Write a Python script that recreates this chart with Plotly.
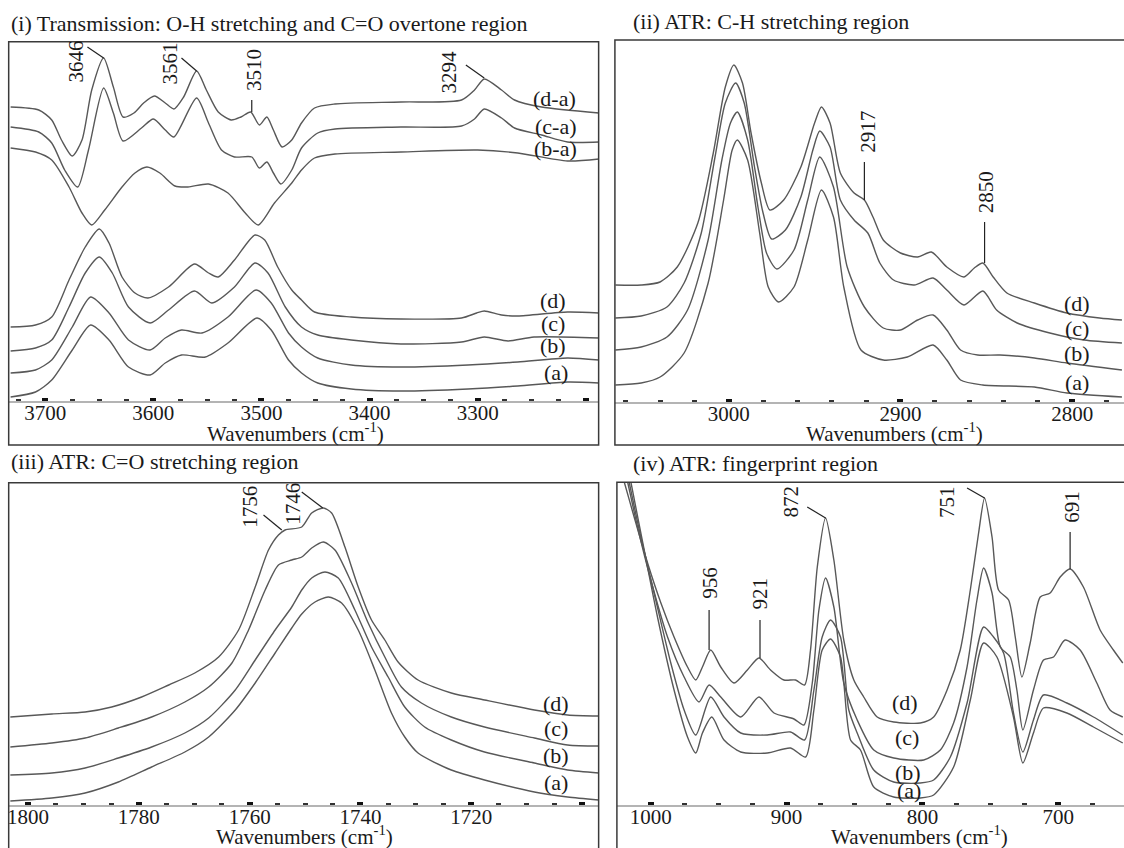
import plotly.graph_objects as go

FONT = "Liberation Serif, 'Times New Roman', serif"
LINE_C = "#585858"
TXT_C = "#1a1a1a"

# ---------------- Panel (i): Transmission, O-H stretching ----------------
p1_da_x = [3732,3706,3694,3685,3675,3666,3657,3646,3637,3628,3618,3609,3599,3589,3581,3572,3560,3551,3540,3528,3519,3510,3502,3495,3489,3481,3472,3463,3451,3432,3371,3315,3303,3294,3278,3266,3241,3188]
p1_da_y = [2.94,2.91,2.81,2.61,2.45,2.61,3.11,3.43,3.14,2.84,2.88,2.98,3.05,2.98,2.92,3.04,3.30,3.11,2.89,2.81,2.84,2.89,2.76,2.84,2.71,2.54,2.61,2.78,2.93,2.97,2.99,3.01,3.11,3.22,3.11,3.01,2.94,2.88]
p1_ca_x = [3732,3706,3694,3682,3670,3660,3646,3637,3628,3611,3600,3589,3581,3560,3549,3537,3525,3509,3502,3495,3489,3482,3472,3463,3448,3432,3371,3315,3303,3294,3278,3266,3241,3217,3188]
p1_ca_y = [2.74,2.69,2.58,2.31,2.14,2.51,3.13,2.88,2.60,2.73,2.82,2.71,2.64,3.03,2.78,2.51,2.44,2.44,2.33,2.39,2.28,2.17,2.31,2.53,2.68,2.72,2.74,2.75,2.82,2.92,2.83,2.73,2.66,2.59,2.59]
p1_ba_x = [3732,3709,3694,3678,3666,3657,3645,3629,3617,3606,3594,3580,3568,3549,3531,3515,3503,3488,3472,3463,3451,3432,3371,3300,3263,3217,3188]
p1_ba_y = [2.53,2.49,2.41,2.14,1.88,1.76,1.91,2.14,2.28,2.34,2.28,2.15,2.14,2.17,2.08,1.88,1.76,1.98,2.18,2.31,2.43,2.47,2.49,2.51,2.48,2.40,2.42]
p1_d_x = [3732,3709,3694,3678,3663,3650,3641,3629,3617,3605,3586,3562,3549,3540,3525,3506,3497,3485,3472,3463,3451,3417,3371,3315,3301,3294,3278,3263,3217,3188]
p1_d_y = [0.74,0.76,0.84,1.21,1.54,1.72,1.58,1.24,1.08,1.03,1.14,1.37,1.28,1.24,1.41,1.66,1.61,1.34,1.11,1.01,0.89,0.84,0.82,0.83,0.88,0.90,0.86,0.85,0.89,0.88]
p1_c_x = [3732,3709,3694,3678,3663,3650,3638,3623,3603,3586,3562,3546,3525,3506,3494,3478,3463,3448,3417,3371,3315,3294,3272,3248,3188]
p1_c_y = [0.50,0.53,0.61,0.94,1.28,1.44,1.28,0.94,0.78,0.91,1.10,0.98,1.14,1.38,1.28,0.94,0.74,0.66,0.61,0.57,0.59,0.64,0.60,0.64,0.63]
p1_b_x = [3732,3709,3694,3675,3658,3641,3623,3603,3589,3574,3555,3531,3505,3491,3475,3463,3448,3417,3371,3309,3263,3217,3188]
p1_b_y = [0.28,0.31,0.41,0.74,1.04,0.88,0.61,0.51,0.63,0.71,0.68,0.84,1.11,0.98,0.68,0.54,0.43,0.36,0.34,0.36,0.39,0.43,0.41]
p1_a_x = [3732,3709,3694,3675,3658,3641,3623,3603,3589,3574,3552,3531,3504,3491,3475,3463,3448,3417,3371,3309,3263,3217,3188]
p1_a_y = [0.04,0.09,0.21,0.51,0.76,0.61,0.34,0.26,0.38,0.46,0.44,0.58,0.83,0.71,0.41,0.28,0.18,0.12,0.10,0.12,0.15,0.19,0.18]
p1_labels = ["(d-a)", "(c-a)", "(b-a)", "(d)", "(c)", "(b)", "(a)"]
p1_label_x = [3229, 3228, 3228, 3230, 3230, 3230, 3228]
p1_label_y = [3.03, 2.75, 2.53, 1.01, 0.78, 0.56, 0.29]
p1_peaks = ["3646", "3561", "3510", "3294"]
p1_peak_tx = [3672, 3585, 3507, 3327]
p1_peak_ty = [3.39, 3.37, 3.31, 3.29]
p1_lead_x0 = [3661, 3574, 3509, 3311]
p1_lead_y0 = [3.54, 3.43, 3.01, 3.36]
p1_lead_x1 = [3646, 3560, 3509, 3294]
p1_lead_y1 = [3.43, 3.30, 2.89, 3.23]
p1_ticks = [3700, 3600, 3500, 3400, 3300, 3200]
p1_ticktext = ["3700", "3600", "3500", "3400", "3300", " "]

# ---------------- Panel (ii): ATR, C-H stretching ----------------
p2_d_x = [3066,3051,3040,3030,3018,3009,3002,2997,2992,2987,2981,2976,2968,2958,2950,2946,2941,2935,2927,2921,2916,2910,2900,2890,2882,2873,2863,2857,2852,2846,2838,2822,2803,2784,2771]
p2_d_y = [1.17,1.17,1.20,1.35,1.79,2.49,3.15,3.37,3.19,2.69,2.19,1.92,2.02,2.35,2.79,2.95,2.79,2.29,2.09,2.02,1.85,1.62,1.49,1.45,1.50,1.35,1.25,1.34,1.39,1.25,1.09,0.99,0.89,0.84,0.82]
p2_c_x = [3066,3051,3036,3026,3016,3008,3002,2996,2991,2985,2980,2975,2967,2958,2951,2947,2941,2935,2927,2919,2912,2904,2892,2881,2873,2863,2852,2844,2832,2813,2793,2771]
p2_c_y = [0.84,0.86,0.95,1.19,1.69,2.45,2.99,3.19,2.99,2.35,1.89,1.63,1.72,2.05,2.52,2.71,2.55,2.02,1.82,1.69,1.39,1.22,1.17,1.24,1.12,0.97,1.11,0.92,0.79,0.69,0.62,0.59]
p2_b_x = [3066,3051,3036,3024,3012,3004,2999,2995,2989,2983,2978,2972,2962,2954,2947,2939,2931,2921,2910,2900,2890,2881,2873,2865,2855,2842,2822,2803,2771]
p2_b_y = [0.52,0.55,0.65,0.92,1.62,2.42,2.79,2.90,2.62,1.95,1.49,1.33,1.52,2.02,2.45,2.15,1.35,0.95,0.74,0.72,0.82,0.87,0.72,0.52,0.47,0.47,0.44,0.39,0.32]
p2_a_x = [3066,3051,3040,3026,3012,3003,2998,2995,2989,2982,2977,2971,2962,2954,2946,2939,2933,2923,2910,2896,2881,2873,2865,2852,2822,2803,2771]
p2_a_y = [0.17,0.19,0.25,0.49,1.19,2.02,2.52,2.62,2.42,1.69,1.15,1.00,1.15,1.62,2.12,1.85,1.15,0.52,0.42,0.45,0.57,0.42,0.22,0.17,0.15,0.09,0.05]
p2_labels = ["(d)", "(c)", "(b)", "(a)"]
p2_label_x = [2797, 2797, 2797, 2797]
p2_label_y = [0.99, 0.74, 0.49, 0.20]
p2_peaks = ["2917", "2850"]
p2_peak_tx = [2919, 2850]
p2_peak_ty = [2.70, 2.10]
p2_lead_x0 = [2921, 2851]
p2_lead_y0 = [2.40, 1.80]
p2_lead_x1 = [2921, 2851]
p2_lead_y1 = [2.02, 1.39]
p2_ticks = [3000, 2900, 2800]
p2_ticktext = ["3000", "2900", "2800"]

# ---------------- Panel (iii): ATR, C=O stretching ----------------
p3_d_x = [1803.2,1795.7,1789.7,1784.9,1779.5,1774.6,1769.9,1765.6,1762.0,1759.0,1756.6,1754.8,1753.6,1750.6,1748.8,1746.7,1745.2,1742.8,1740.4,1738.0,1735.6,1733.2,1729.6,1723.6,1717.6,1708.6,1702.6,1697.0]
p3_d_y = [0.88,0.91,0.93,0.98,1.08,1.20,1.32,1.48,1.75,2.18,2.55,2.70,2.75,2.78,2.92,2.97,2.92,2.58,2.18,1.85,1.65,1.43,1.25,1.12,1.05,0.95,0.90,0.89]
p3_c_x = [1803.2,1795.7,1789.7,1783.7,1777.7,1771.7,1767.4,1763.2,1760.2,1757.2,1754.8,1752.4,1750.6,1748.8,1746.7,1744.6,1741.6,1738.6,1735.6,1732.6,1729.0,1723.6,1717.6,1708.6,1702.6,1697.0]
p3_c_y = [0.58,0.62,0.67,0.77,0.88,1.03,1.18,1.42,1.75,2.15,2.40,2.45,2.48,2.57,2.63,2.55,2.22,1.82,1.48,1.18,1.02,0.88,0.78,0.67,0.60,0.59]
p3_b_x = [1803.2,1795.7,1789.7,1783.7,1777.7,1771.7,1767.4,1762.6,1759.0,1755.4,1752.4,1750.6,1748.8,1746.4,1744.0,1741.0,1738.0,1735.0,1732.0,1728.4,1723.6,1717.6,1708.6,1702.6,1697.0]
p3_b_y = [0.30,0.32,0.37,0.47,0.58,0.72,0.87,1.15,1.45,1.75,1.98,2.15,2.27,2.33,2.27,1.95,1.58,1.28,0.98,0.78,0.65,0.53,0.42,0.35,0.32]
p3_a_x = [1803.2,1795.7,1789.7,1783.7,1777.7,1771.7,1767.4,1762.6,1759.0,1755.4,1752.4,1750.6,1748.2,1745.8,1743.4,1740.4,1737.4,1734.4,1732.0,1729.6,1723.6,1717.6,1708.6,1702.6,1697.0]
p3_a_y = [0.04,0.07,0.12,0.23,0.38,0.53,0.68,0.95,1.22,1.52,1.77,1.91,2.03,2.08,2.02,1.75,1.35,0.92,0.68,0.52,0.35,0.25,0.13,0.08,0.05]
p3_labels = ["(d)", "(c)", "(b)", "(a)"]
p3_label_x = [1704.7, 1704.7, 1704.7, 1704.7]
p3_label_y = [1.02, 0.77, 0.50, 0.23]
p3_peaks = ["1756", "1746"]
p3_peak_tx = [1760.0, 1752.2]
p3_peak_ty = [2.98, 3.01]
p3_lead_x0 = [1757.5, 1750.6]
p3_lead_y0 = [2.90, 3.13]
p3_lead_x1 = [1754.2, 1746.8]
p3_lead_y1 = [2.75, 2.97]
p3_ticks = [1800, 1780, 1760, 1740, 1720, 1700]
p3_ticktext = ["1800", "1780", "1760", "1740", "1720", " "]

# ---------------- Panel (iv): ATR, fingerprint ----------------
p4_d_x = [1022.1,1019.6,1012.3,1002.4,992.6,982.9,973.0,966.9,962.0,955.9,948.5,938.7,928.9,920.4,911.8,902.0,893.4,886.8,882.4,877.4,871.3,865.2,857.9,850.5,843.2,833.3,821.1,801.5,791.7,781.8,772.1,764.7,758.6,754.2,748.7,743.9,736.5,731.6,726.7,720.6,713.2,705.9,698.5,691.2,681.4,669.1,659.3,652.4]
p4_d_y = [3.35,3.23,2.88,2.42,2.02,1.68,1.38,1.25,1.38,1.55,1.38,1.22,1.35,1.47,1.35,1.25,1.25,1.20,1.55,2.38,2.87,2.45,1.65,1.25,1.08,0.88,0.83,0.82,0.88,1.15,1.55,2.15,2.72,3.07,2.68,2.15,2.05,1.68,1.28,1.62,2.08,2.12,2.28,2.36,2.18,1.75,1.55,1.42]
p4_c_x = [1019.9,1017.1,1009.8,1000.0,987.7,975.5,964.5,957.1,948.5,933.8,920.4,909.3,894.6,887.3,881.1,876.2,871.3,865.2,857.9,848.0,835.8,821.1,799.0,786.8,777.0,767.1,759.8,754.9,748.7,742.6,735.3,730.4,726.0,718.2,710.8,703.4,694.9,683.8,671.5,661.8,652.4]
p4_c_y = [3.40,3.23,2.78,2.25,1.68,1.28,1.03,1.20,1.08,0.88,1.08,0.92,0.86,0.80,1.22,1.95,2.27,1.98,1.22,0.85,0.55,0.47,0.45,0.55,0.82,1.38,2.05,2.37,2.12,1.58,1.48,1.15,0.75,1.15,1.45,1.48,1.65,1.55,1.22,0.95,0.88]
p4_b_x = [1018.4,1016.0,1007.4,997.6,985.3,975.5,966.9,955.9,946.1,933.8,914.2,897.1,886.8,879.9,873.8,867.6,860.3,854.2,848.0,835.8,821.1,801.5,791.7,779.4,767.1,754.9,747.6,740.2,732.9,726.0,718.2,710.8,693.6,674.0,652.4]
p4_b_y = [3.40,3.23,2.68,2.12,1.42,0.95,0.70,1.08,0.88,0.72,0.70,0.73,0.65,1.15,1.68,1.85,1.68,0.95,0.72,0.35,0.23,0.22,0.25,0.48,1.02,1.78,1.68,1.52,0.92,0.53,0.85,1.10,1.02,0.88,0.70]
p4_a_x = [1016.9,1014.7,1004.9,995.1,982.9,973.0,966.9,962.0,955.1,946.1,933.8,914.2,897.1,886.0,879.9,873.8,867.6,860.3,852.9,845.6,835.8,821.1,801.5,791.7,777.0,764.7,754.9,745.1,732.9,726.0,718.2,710.8,693.6,674.0,652.4]
p4_a_y = [3.40,3.23,2.55,1.88,1.15,0.68,0.52,0.72,0.88,0.65,0.53,0.52,0.57,0.48,0.95,1.55,1.66,1.48,0.65,0.55,0.18,0.08,0.07,0.10,0.38,1.05,1.62,1.48,0.88,0.42,0.72,0.97,0.92,0.78,0.62]
p4_labels = ["(d)", "(c)", "(b)", "(a)"]
p4_label_x = [812.5, 811.2, 810.8, 810.1]
p4_label_y = [1.03, 0.68, 0.33, 0.15]
p4_peaks = ["956", "921", "872", "751", "691"]
p4_peak_tx = [956.6, 919.9, 897.1, 781.8, 689.9]
p4_peak_ty = [2.22, 2.11, 3.03, 3.03, 2.98]
p4_lead_x0 = [957.1, 919.6, 884.8, 767.1, 691.2]
p4_lead_y0 = [1.95, 1.85, 2.98, 3.17, 2.73]
p4_lead_x1 = [957.1, 919.6, 871.3, 754.2, 691.2]
p4_lead_y1 = [1.55, 1.47, 2.87, 3.07, 2.36]
p4_ticks = [1000, 900, 800, 700]
p4_ticktext = ["1000", "900", "800", "700"]

titles = ["(i) Transmission: O-H stretching and C=O overtone region",
          "(ii) ATR: C-H stretching region",
          "(iii) ATR: C=O stretching region",
          "(iv) ATR: fingerprint region"]
axis_title = "Wavenumbers (cm<sup>-1</sup>)"

W, H = 1124, 848

def px(x):
    return x / W

def py(y):
    return 1 - y / H

panels = [
    dict(curves=[(p1_da_x, p1_da_y), (p1_ca_x, p1_ca_y), (p1_ba_x, p1_ba_y),
                 (p1_d_x, p1_d_y), (p1_c_x, p1_c_y), (p1_b_x, p1_b_y), (p1_a_x, p1_a_y)],
         labels=(p1_labels, p1_label_x, p1_label_y),
         peaks=(p1_peaks, p1_peak_tx, p1_peak_ty),
         leads=(p1_lead_x0, p1_lead_y0, p1_lead_x1, p1_lead_y1),
         ticks=(p1_ticks, p1_ticktext),
         xdom=[px(6.7), px(597.7)], ydom=[py(401), py(41.7)],
         xr=[3733.8, 3188.2], yr=[0, 3.593], mdtick=25,
         box=(6.7, 41.7, 597.7, 445), title_xy=(7, 23), axt_xy=(294, 432)),
    dict(curves=[(p2_d_x, p2_d_y), (p2_c_x, p2_c_y), (p2_b_x, p2_b_y), (p2_a_x, p2_a_y)],
         labels=(p2_labels, p2_label_x, p2_label_y),
         peaks=(p2_peaks, p2_peak_tx, p2_peak_ty),
         leads=(p2_lead_x0, p2_lead_y0, p2_lead_x1, p2_lead_y1),
         ticks=(p2_ticks, p2_ticktext),
         xdom=[px(614), 1.0], ydom=[py(402), py(40)],
         xr=[3066.3, 2769.8], yr=[0, 3.62], mdtick=20,
         box=(614, 40, 1127, 445), title_xy=(630, 22), axt_xy=(894, 432)),
    dict(curves=[(p3_d_x, p3_d_y), (p3_c_x, p3_c_y), (p3_b_x, p3_b_y), (p3_a_x, p3_a_y)],
         labels=(p3_labels, p3_label_x, p3_label_y),
         peaks=(p3_peaks, p3_peak_tx, p3_peak_ty),
         leads=(p3_lead_x0, p3_lead_y0, p3_lead_x1, p3_lead_y1),
         ticks=(p3_ticks, p3_ticktext),
         xdom=[px(6.7), px(597.7)], ydom=[py(805), py(482.7)],
         xr=[1803.5, 1697.0], yr=[0, 3.223], mdtick=5,
         box=(6.7, 482.7, 597.7, 852), title_xy=(7, 462), axt_xy=(303, 835)),
    dict(curves=[(p4_d_x, p4_d_y), (p4_c_x, p4_c_y), (p4_b_x, p4_b_y), (p4_a_x, p4_a_y)],
         labels=(p4_labels, p4_label_x, p4_label_y),
         peaks=(p4_peaks, p4_peak_tx, p4_peak_ty),
         leads=(p4_lead_x0, p4_lead_y0, p4_lead_x1, p4_lead_y1),
         ticks=(p4_ticks, p4_ticktext),
         xdom=[px(616), 1.0], ydom=[py(805), py(482.3)],
         xr=[1025.0, 651.5], yr=[0, 3.227], mdtick=25,
         box=(616, 482.3, 1127, 852), title_xy=(630, 463), axt_xy=(919, 835)),
]

fig = go.Figure()
annotations = []
shapes = []
layout = {}

for i, p in enumerate(panels):
    n = "" if i == 0 else str(i + 1)
    xa, ya = "x" + n, "y" + n
    for cx, cy in p["curves"]:
        fig.add_trace(go.Scatter(
            x=cx, y=cy, mode="lines", xaxis=xa, yaxis=ya,
            line=dict(color=LINE_C, width=1.4, shape="spline", smoothing=0.7),
            showlegend=False, hoverinfo="skip"))
    tv, tt = p["ticks"]
    layout["xaxis" + n] = dict(
        domain=p["xdom"], range=p["xr"], anchor=ya,
        showline=True, linecolor="#b4b4b4", linewidth=2,
        showgrid=False, zeroline=False,
        tickmode="array", tickvals=tv, ticktext=tt,
        ticks="inside", ticklen=3, tickwidth=6, tickcolor="#111",
        minor=dict(ticks="inside", tickmode="linear", tick0=0, dtick=p["mdtick"],
                   ticklen=2, tickwidth=5, tickcolor="#333"),
        tickfont=dict(family=FONT, size=21, color=TXT_C),
        ticklabelstandoff=-8,
        fixedrange=True)
    layout["yaxis" + n] = dict(domain=p["ydom"], range=p["yr"], anchor=xa,
                               visible=False, fixedrange=True)
    # frame
    bx0, by0, bx1, by1 = p["box"]
    shapes.append(dict(type="rect", xref="paper", yref="paper",
                       x0=px(bx0), x1=px(bx1), y0=py(by1), y1=py(by0),
                       line=dict(color="#3a3a3a", width=1.5)))
    # panel title
    tx, ty = p["title_xy"]
    annotations.append(dict(text=titles[i], xref="paper", yref="paper",
                            x=px(tx), y=py(ty), xanchor="left", yanchor="middle",
                            showarrow=False, font=dict(family=FONT, size=22, color=TXT_C)))
    # axis title
    ax_, ay_ = p["axt_xy"]
    annotations.append(dict(text=axis_title, xref="paper", yref="paper",
                            x=px(ax_), y=py(ay_), xanchor="center", yanchor="middle",
                            showarrow=False, font=dict(family=FONT, size=21, color=TXT_C)))
    # curve labels
    labs, lx, ly = p["labels"]
    for t, x, y in zip(labs, lx, ly):
        annotations.append(dict(text=t, x=x, y=y, xref=xa, yref=ya, showarrow=False,
                                xanchor="center", yanchor="middle",
                                font=dict(family=FONT, size=22, color=TXT_C)))
    # peak labels
    pk, ptx, pty = p["peaks"]
    for t, x, y in zip(pk, ptx, pty):
        annotations.append(dict(text=t, x=x, y=y, xref=xa, yref=ya, showarrow=False,
                                textangle=-90, xanchor="center", yanchor="middle",
                                font=dict(family=FONT, size=21, color=TXT_C)))
    lx0, ly0, lx1, ly1 = p["leads"]
    for a, b, c, d in zip(lx0, ly0, lx1, ly1):
        shapes.append(dict(type="line", xref=xa, yref=ya, x0=a, y0=b, x1=c, y1=d,
                           line=dict(color="#222", width=1.2)))

fig.update_layout(
    width=W, height=H, margin=dict(l=0, r=0, t=0, b=0),
    paper_bgcolor="white", plot_bgcolor="white",
    annotations=annotations, shapes=shapes, **layout)

fig.write_html("out.html", config={"displayModeBar": False},
               post_script="document.body.style.margin='0';document.body.style.overflow='hidden';")
